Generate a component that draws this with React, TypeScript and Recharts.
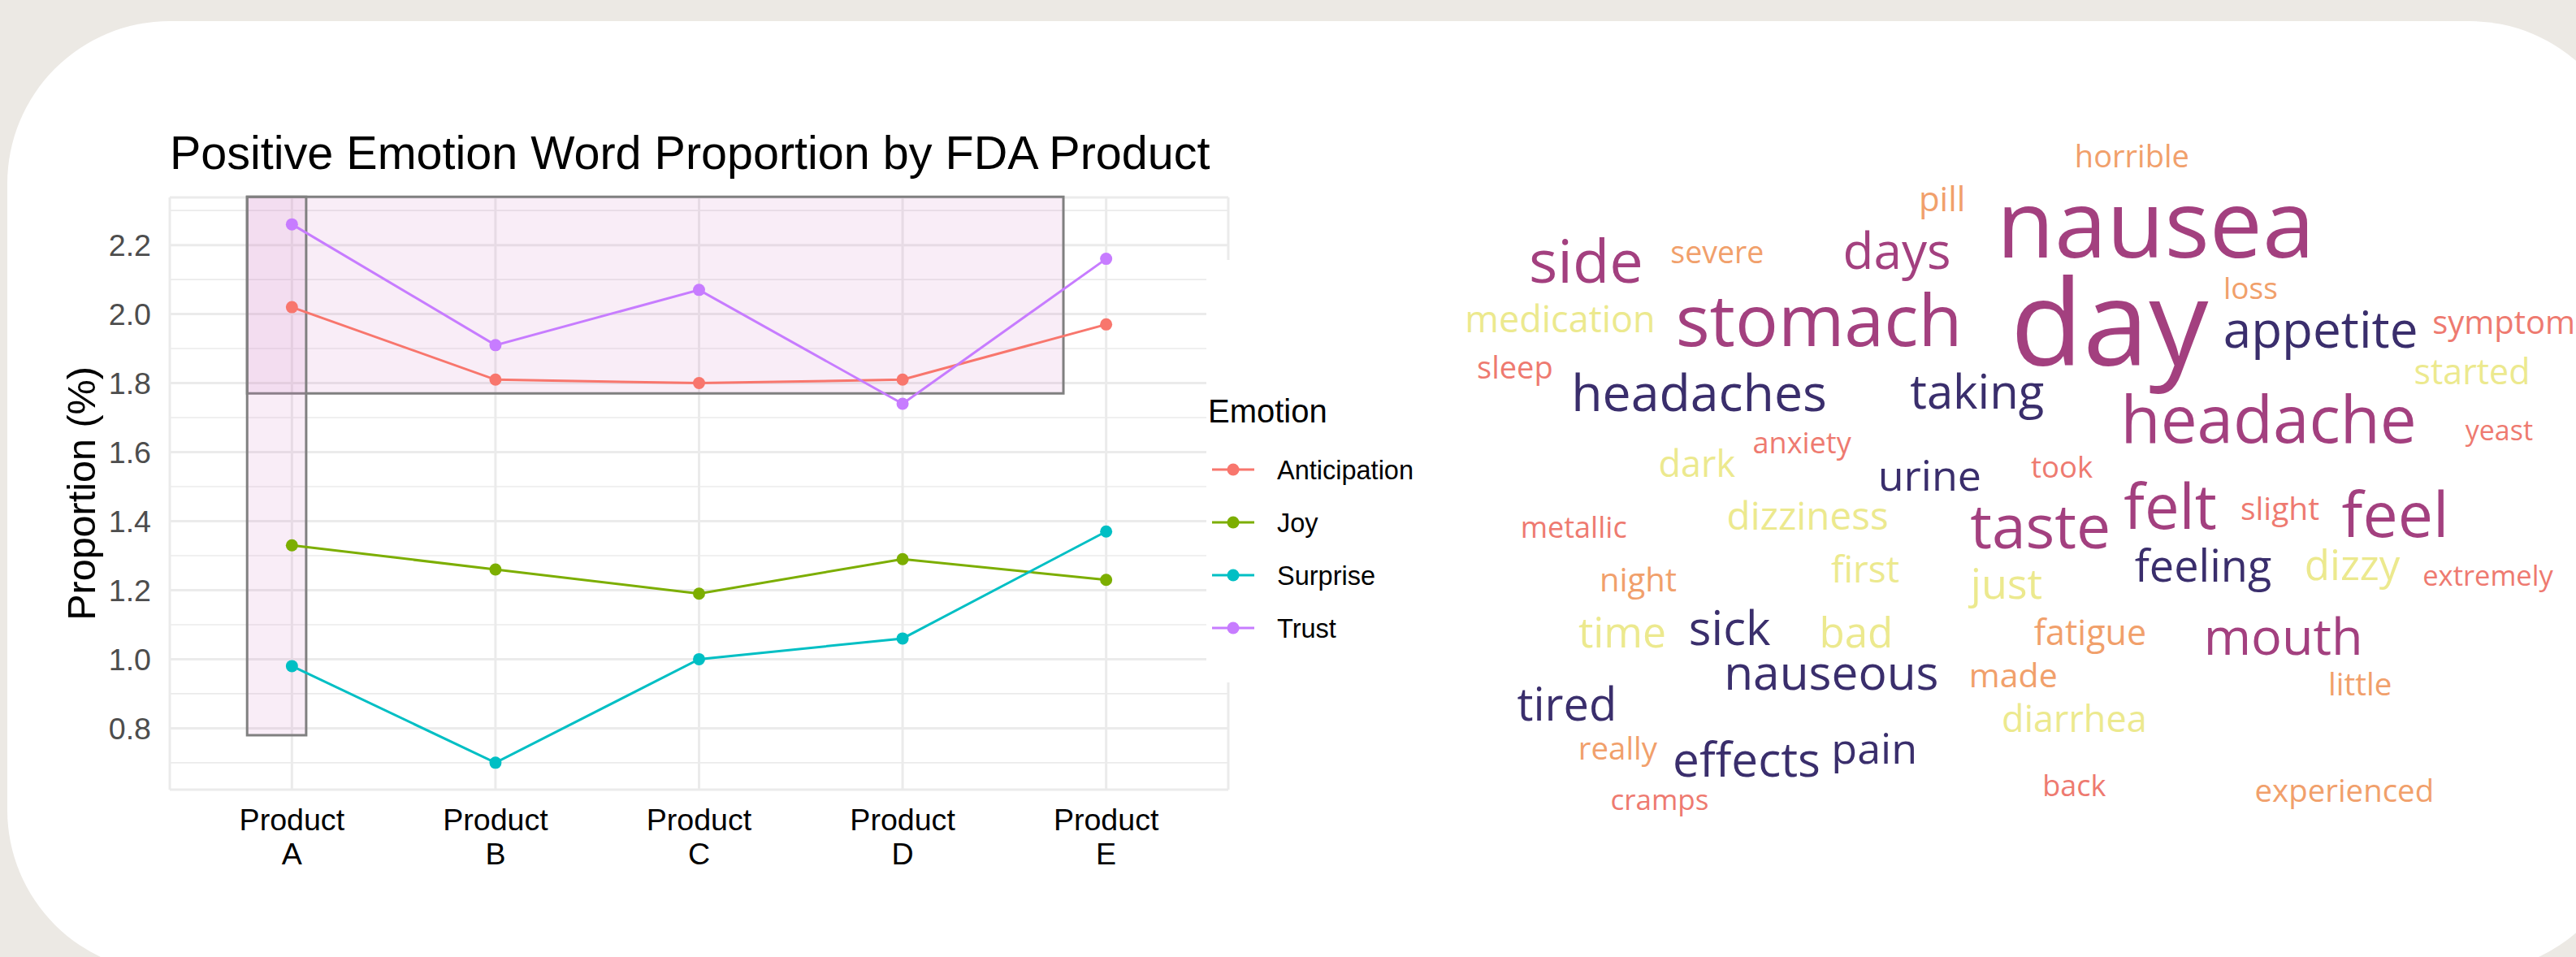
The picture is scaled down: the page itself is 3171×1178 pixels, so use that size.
import {
  LineChart,
  Line,
  XAxis,
  YAxis,
  CartesianGrid,
  ReferenceArea,
  Legend,
  ScatterChart,
  Scatter,
} from "recharts";

// ---- line chart data ----
const PRODUCTS = ["A", "B", "C", "D", "E"];
const ANTICIPATION = [2.02, 1.81, 1.8, 1.81, 1.97];
const JOY = [1.33, 1.26, 1.19, 1.29, 1.23];
const SURPRISE = [0.98, 0.7, 1.0, 1.06, 1.37];
const TRUST = [2.26, 1.91, 2.07, 1.74, 2.16];
const Y_TICKS = [0.8, 1.0, 1.2, 1.4, 1.6, 1.8, 2.0, 2.2];
const Y_MINOR = [0.7, 0.9, 1.1, 1.3, 1.5, 1.7, 1.9, 2.1, 2.3];

// highlight boxes, in data units (x: product index, y: proportion)
const BOX_WIDE = { x1: 0.78, x2: 4.79, y1: 1.77, y2: 2.34 };
const BOX_NARROW = { x1: 0.78, x2: 1.07, y1: 0.78, y2: 2.34 };

// ---- word cloud data (layout units 0-100, weight = relative size) ----
const WORDS = [
  "horrible", "pill", "nausea", "side", "severe", "days", "day", "stomach", "medication", "loss",
  "appetite", "symptoms", "sleep", "headaches", "taking", "started", "headache", "yeast", "anxiety", "dark",
  "took", "urine", "metallic", "dizziness", "taste", "felt", "slight", "feel", "feeling", "dizzy",
  "extremely", "night", "first", "just", "time", "sick", "bad", "fatigue", "mouth", "nauseous",
  "made", "little", "tired", "diarrhea", "really", "effects", "pain", "back", "cramps", "experienced",
];
const WORD_X = [
  60.7, 43.9, 62.8, 12.4, 24.0, 39.9, 58.7, 33.0, 10.1, 71.2,
  77.4, 94.3, 6.1, 22.4, 47.0, 90.8, 72.8, 93.2, 31.5, 22.2,
  54.5, 42.8, 11.3, 32.0, 52.6, 64.1, 73.8, 84.0, 67.0, 80.2,
  92.2, 17.0, 37.1, 49.6, 15.6, 25.1, 36.3, 57.0, 74.1, 34.1,
  50.2, 80.9, 10.7, 55.6, 15.2, 26.6, 37.9, 55.6, 18.9, 79.5,
];
const WORD_Y = [
  94.6, 88.2, 81.5, 77.9, 80.7, 79.9, 65.9, 68.7, 70.7, 75.5,
  68.5, 70.5, 64.0, 59.3, 59.6, 63.2, 54.7, 55.1, 53.2, 49.8,
  49.6, 47.8, 40.9, 42.1, 39.4, 42.2, 43.5, 41.1, 34.6, 34.8,
  34.0, 33.2, 34.5, 32.1, 25.1, 25.4, 25.1, 25.4, 24.0, 18.9,
  19.3, 18.1, 14.5, 12.8, 8.8, 6.4, 8.2, 3.5, 1.5, 2.7,
];
const WORD_WEIGHT = [
  38, 42, 116, 74, 37.5, 62, 146, 88, 45, 37,
  62, 40, 38, 62.6, 58, 43, 80, 34, 36, 45,
  36.5, 52, 36, 47.6, 75, 76, 39, 77, 54, 51,
  34.5, 40, 46, 52, 51.6, 58, 51, 43, 63, 58.6,
  41, 38.6, 56, 45, 38.4, 58.5, 52, 36, 35, 38.4,
];
const WORD_TIER = [
  4, 4, 1, 1, 4, 1, 1, 1, 3, 4,
  2, 5, 5, 2, 2, 3, 1, 5, 5, 3,
  5, 2, 5, 3, 1, 1, 5, 1, 2, 3,
  5, 4, 3, 3, 3, 2, 3, 4, 1, 2,
  4, 4, 2, 3, 4, 2, 2, 5, 5, 4,
];

const SANS = "'Liberation Sans', Arial, sans-serif";
const CLOUD_FONT = "'Open Sans', sans-serif";
const TIER_COLORS = ["#A3407F", "#3A2E6C", "#ECE98E", "#F1A06B", "#EE7A70"];
const EMOTION_COLORS: Record<string, string> = {
  Anticipation: "#F8766D",
  Joy: "#7CAE00",
  Surprise: "#00BFC4",
  Trust: "#C77CFF",
};

const lineData = PRODUCTS.map((p, i) => ({
  idx: i + 1,
  product: p,
  Anticipation: ANTICIPATION[i],
  Joy: JOY[i],
  Surprise: SURPRISE[i],
  Trust: TRUST[i],
}));

const wordData = WORDS.map((w, i) => ({
  word: w,
  x: WORD_X[i],
  y: WORD_Y[i],
  weight: WORD_WEIGHT[i],
  tier: WORD_TIER[i],
}));

function ProductTick({ x, y, payload }: any) {
  const label = PRODUCTS[Math.round(payload.value) - 1];
  return (
    <text x={x} y={y} textAnchor="middle" fontFamily={SANS} fontSize={37.6} fill="#000">
      <tspan x={x} dy={50}>Product</tspan>
      <tspan x={x} dy={42}>{label}</tspan>
    </text>
  );
}

function EmotionLegend({ payload }: any) {
  return (
    <svg width={275} height={520} style={{ display: "block" }}>
      <text x={2} y={200} fontSize={40} fontFamily={SANS} fill="#000">
        Emotion
      </text>
      {(payload ?? []).map((item: any, i: number) => {
        const cy = 258 + i * 65;
        return (
          <g key={item.value}>
            <line x1={7} x2={59} y1={cy} y2={cy} stroke={item.color} strokeWidth={3} />
            <circle cx={33} cy={cy} r={7.5} fill={item.color} />
            <text x={87} y={cy} dy="0.36em" fontSize={32.5} fontFamily={SANS} fill="#000">
              {item.value}
            </text>
          </g>
        );
      })}
    </svg>
  );
}

function WordShape(props: any) {
  const { cx, cy, payload } = props;
  return (
    <text
      x={cx}
      y={cy}
      textAnchor="middle"
      fontFamily={CLOUD_FONT}
      fontSize={payload.weight}
      fill={TIER_COLORS[payload.tier - 1]}
    >
      {payload.word}
    </text>
  );
}

export default function App() {
  return (
    <div
      style={{
        position: "absolute",
        left: 0,
        top: 0,
        width: 3171,
        height: 1178,
        background: "#ECE9E4",
        overflow: "hidden",
      }}
    >
      {/* white card */}
      <div
        style={{
          position: "absolute",
          left: 9,
          top: 26,
          width: 3231,
          height: 1171,
          borderRadius: 200,
          background: "#fff",
        }}
      />

      {/* title */}
      <div
        style={{
          position: "absolute",
          left: 209,
          top: 160,
          fontFamily: SANS,
          fontSize: 57.5,
          lineHeight: "57.5px",
          color: "#000",
          whiteSpace: "nowrap",
        }}
      >
        Positive Emotion Word Proportion by FDA Product
      </div>

      <div style={{ position: "absolute", left: 0, top: 0 }}>
        <LineChart
          width={1760}
          height={1178}
          data={lineData}
          margin={{ top: 243, right: 248, bottom: 106, left: 89 }}
        >
          <CartesianGrid
            horizontalValues={Y_MINOR}
            vertical={false}
            stroke="#EBEBEB"
            strokeWidth={1.6}
          />
          <CartesianGrid stroke="#EBEBEB" strokeWidth={3} />
          <XAxis
            dataKey="idx"
            type="number"
            domain={[0.4, 5.6]}
            ticks={[1, 2, 3, 4, 5]}
            interval={0}
            height={100}
            axisLine={false}
            tickLine={false}
            tickSize={0}
            tickMargin={0}
            tick={<ProductTick />}
          />
          <YAxis
            type="number"
            domain={[0.622, 2.338]}
            ticks={Y_TICKS}
            interval={0}
            width={120}
            axisLine={false}
            tickLine={false}
            tickSize={0}
            tickMargin={23}
            tickFormatter={(v: number) => v.toFixed(1)}
            tick={{ fill: "#4D4D4D", fontSize: 37.6, fontFamily: SANS }}
            label={{
              content: ({ viewBox }: any) => {
                const cx = viewBox.x + 11;
                const cy = viewBox.y + viewBox.height / 2;
                return (
                  <text
                    transform={`translate(${cx},${cy}) rotate(-90)`}
                    textAnchor="middle"
                    dy="0.36em"
                    fontFamily={SANS}
                    fontSize={48.5}
                    fill="#000"
                  >
                    Proportion (%)
                  </text>
                );
              },
            }}
          />
          {Object.keys(EMOTION_COLORS).map((k) => (
            <Line
              key={k}
              type="linear"
              dataKey={k}
              name={k}
              stroke={EMOTION_COLORS[k]}
              strokeWidth={3}
              dot={{ r: 7.5, fill: EMOTION_COLORS[k], stroke: "none" }}
              activeDot={false}
              isAnimationActive={false}
            />
          ))}
          <ReferenceArea
            {...BOX_WIDE}
            ifOverflow="visible"
            fill="#D580C8"
            fillOpacity={0.14}
            stroke="#808080"
            strokeWidth={3}
          />
          <ReferenceArea
            {...BOX_NARROW}
            ifOverflow="visible"
            fill="#D580C8"
            fillOpacity={0.14}
            stroke="#808080"
            strokeWidth={3}
          />
          <Legend
            layout="horizontal"
            verticalAlign="middle"
            align="center"
            content={<EmotionLegend />}
            wrapperStyle={{
              left: 1485,
              top: 320,
              width: 275,
              height: 520,
              background: "#fff",
            }}
          />
        </LineChart>
      </div>

      {/* word cloud */}
      <div style={{ position: "absolute", left: 1780, top: 160 }}>
        <ScatterChart width={1391} height={850} margin={{ top: 0, right: 0, bottom: 0, left: 0 }}>
          <XAxis type="number" dataKey="x" domain={[0, 100]} hide />
          <YAxis type="number" dataKey="y" domain={[0, 100]} hide />
          <Scatter data={wordData} shape={<WordShape />} isAnimationActive={false} />
        </ScatterChart>
      </div>
    </div>
  );
}
